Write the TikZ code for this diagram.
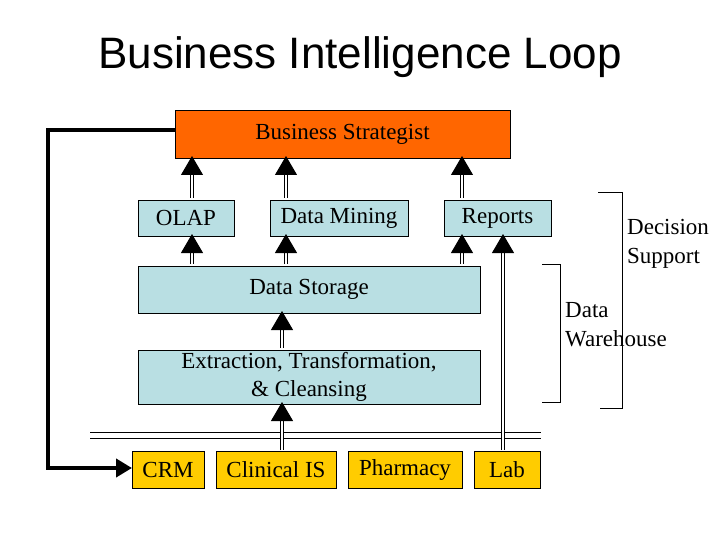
\documentclass[tikz,border=0pt]{standalone}
\usepackage{fontspec}
\setmainfont{Liberation Serif}
\newfontfamily\sans{Liberation Sans}
\usetikzlibrary{arrows.meta}
\definecolor{bluebox}{HTML}{B9DFE3}
\definecolor{orangebox}{HTML}{FF6600}
\definecolor{yellowbox}{HTML}{FFCC00}
\begin{document}
\begin{tikzpicture}[x=1pt,y=-1pt,
  box/.style={draw=black,line width=0.6pt,fill=bluebox,inner sep=0pt,font=\fontsize{23}{28}\selectfont,align=center},
  arr/.style={double=white,draw=black,line width=1pt,double distance=2.5pt,-{Triangle[width=22pt,length=19pt,fill=black]}},
  br/.style={line width=0.8pt}]
\useasboundingbox (0,0) rectangle (720,540);
\node[font=\sans\fontsize{44}{48}\selectfont] (title) at (360,57) {Business Intelligence Loop};
\node[box,fill=orangebox,minimum width=335pt,minimum height=48pt] (bs) at (342.5,134) {Business Strategist};
\node[box,minimum width=96pt,minimum height=36pt] (olap) at (186,218) {OLAP};
\node[box,minimum width=138pt,minimum height=36pt] (dm) at (339,218) {Data Mining};
\node[box,minimum width=107pt,minimum height=36pt] (rep) at (497.5,218) {Reports};
\node[box,minimum width=342pt,minimum height=47pt] (ds) at (309,289.5) {Data Storage};
\node[box,minimum width=342pt,minimum height=54pt] (etc) at (309,377) {Extraction, Transformation,\\ \& Cleansing};
\node[box,fill=yellowbox,minimum width=72pt,minimum height=37pt] (crm) at (168,470) {CRM};
\node[box,fill=yellowbox,minimum width=120pt,minimum height=37pt] (cis) at (276,470) {Clinical IS};
\node[box,fill=yellowbox,minimum width=114pt,minimum height=37pt] (ph) at (405,470) {Pharmacy};
\node[box,fill=yellowbox,minimum width=66pt,minimum height=37pt] (lab) at (507,470) {Lab};
\coordinate (l1a) at (90,432); \coordinate (l1b) at (541,432);
\coordinate (l2a) at (90,438); \coordinate (l2b) at (541,438);
\draw[line width=0.8pt] (l1a) -- (l1b) (l2a) -- (l2b);
\draw[arr] (192,198) -- (192,156);
\draw[arr] (286,198) -- (286,156);
\draw[arr] (462,198) -- (462,156);
\draw[arr] (192,264) -- (192,234);
\draw[arr] (286,264) -- (286,234);
\draw[arr] (462,264) -- (462,234);
\draw[arr] (503,450) -- (503,234);
\draw[arr] (282,348) -- (282,311);
\draw[arr] (282,450) -- (282,402);
\draw[line width=4pt,-{Triangle[width=18pt,length=16pt]}] (175,130) -| (48,468) -- (132,468);
\draw[br] (598,192) -- (622,192) -- (622,408) -- (600,408);
\draw[br] (542,264) -- (560,264) -- (560,402) -- (542,402);
\node[font=\fontsize{23}{29}\selectfont,align=left,anchor=north west,inner sep=0pt] (dsup) at (627,219) {Decision\\Support};
\node[font=\fontsize{23}{29}\selectfont,align=left,anchor=north west,inner sep=0pt] (dwh) at (565,302) {Data\\Warehouse};
\end{tikzpicture}
\end{document}
